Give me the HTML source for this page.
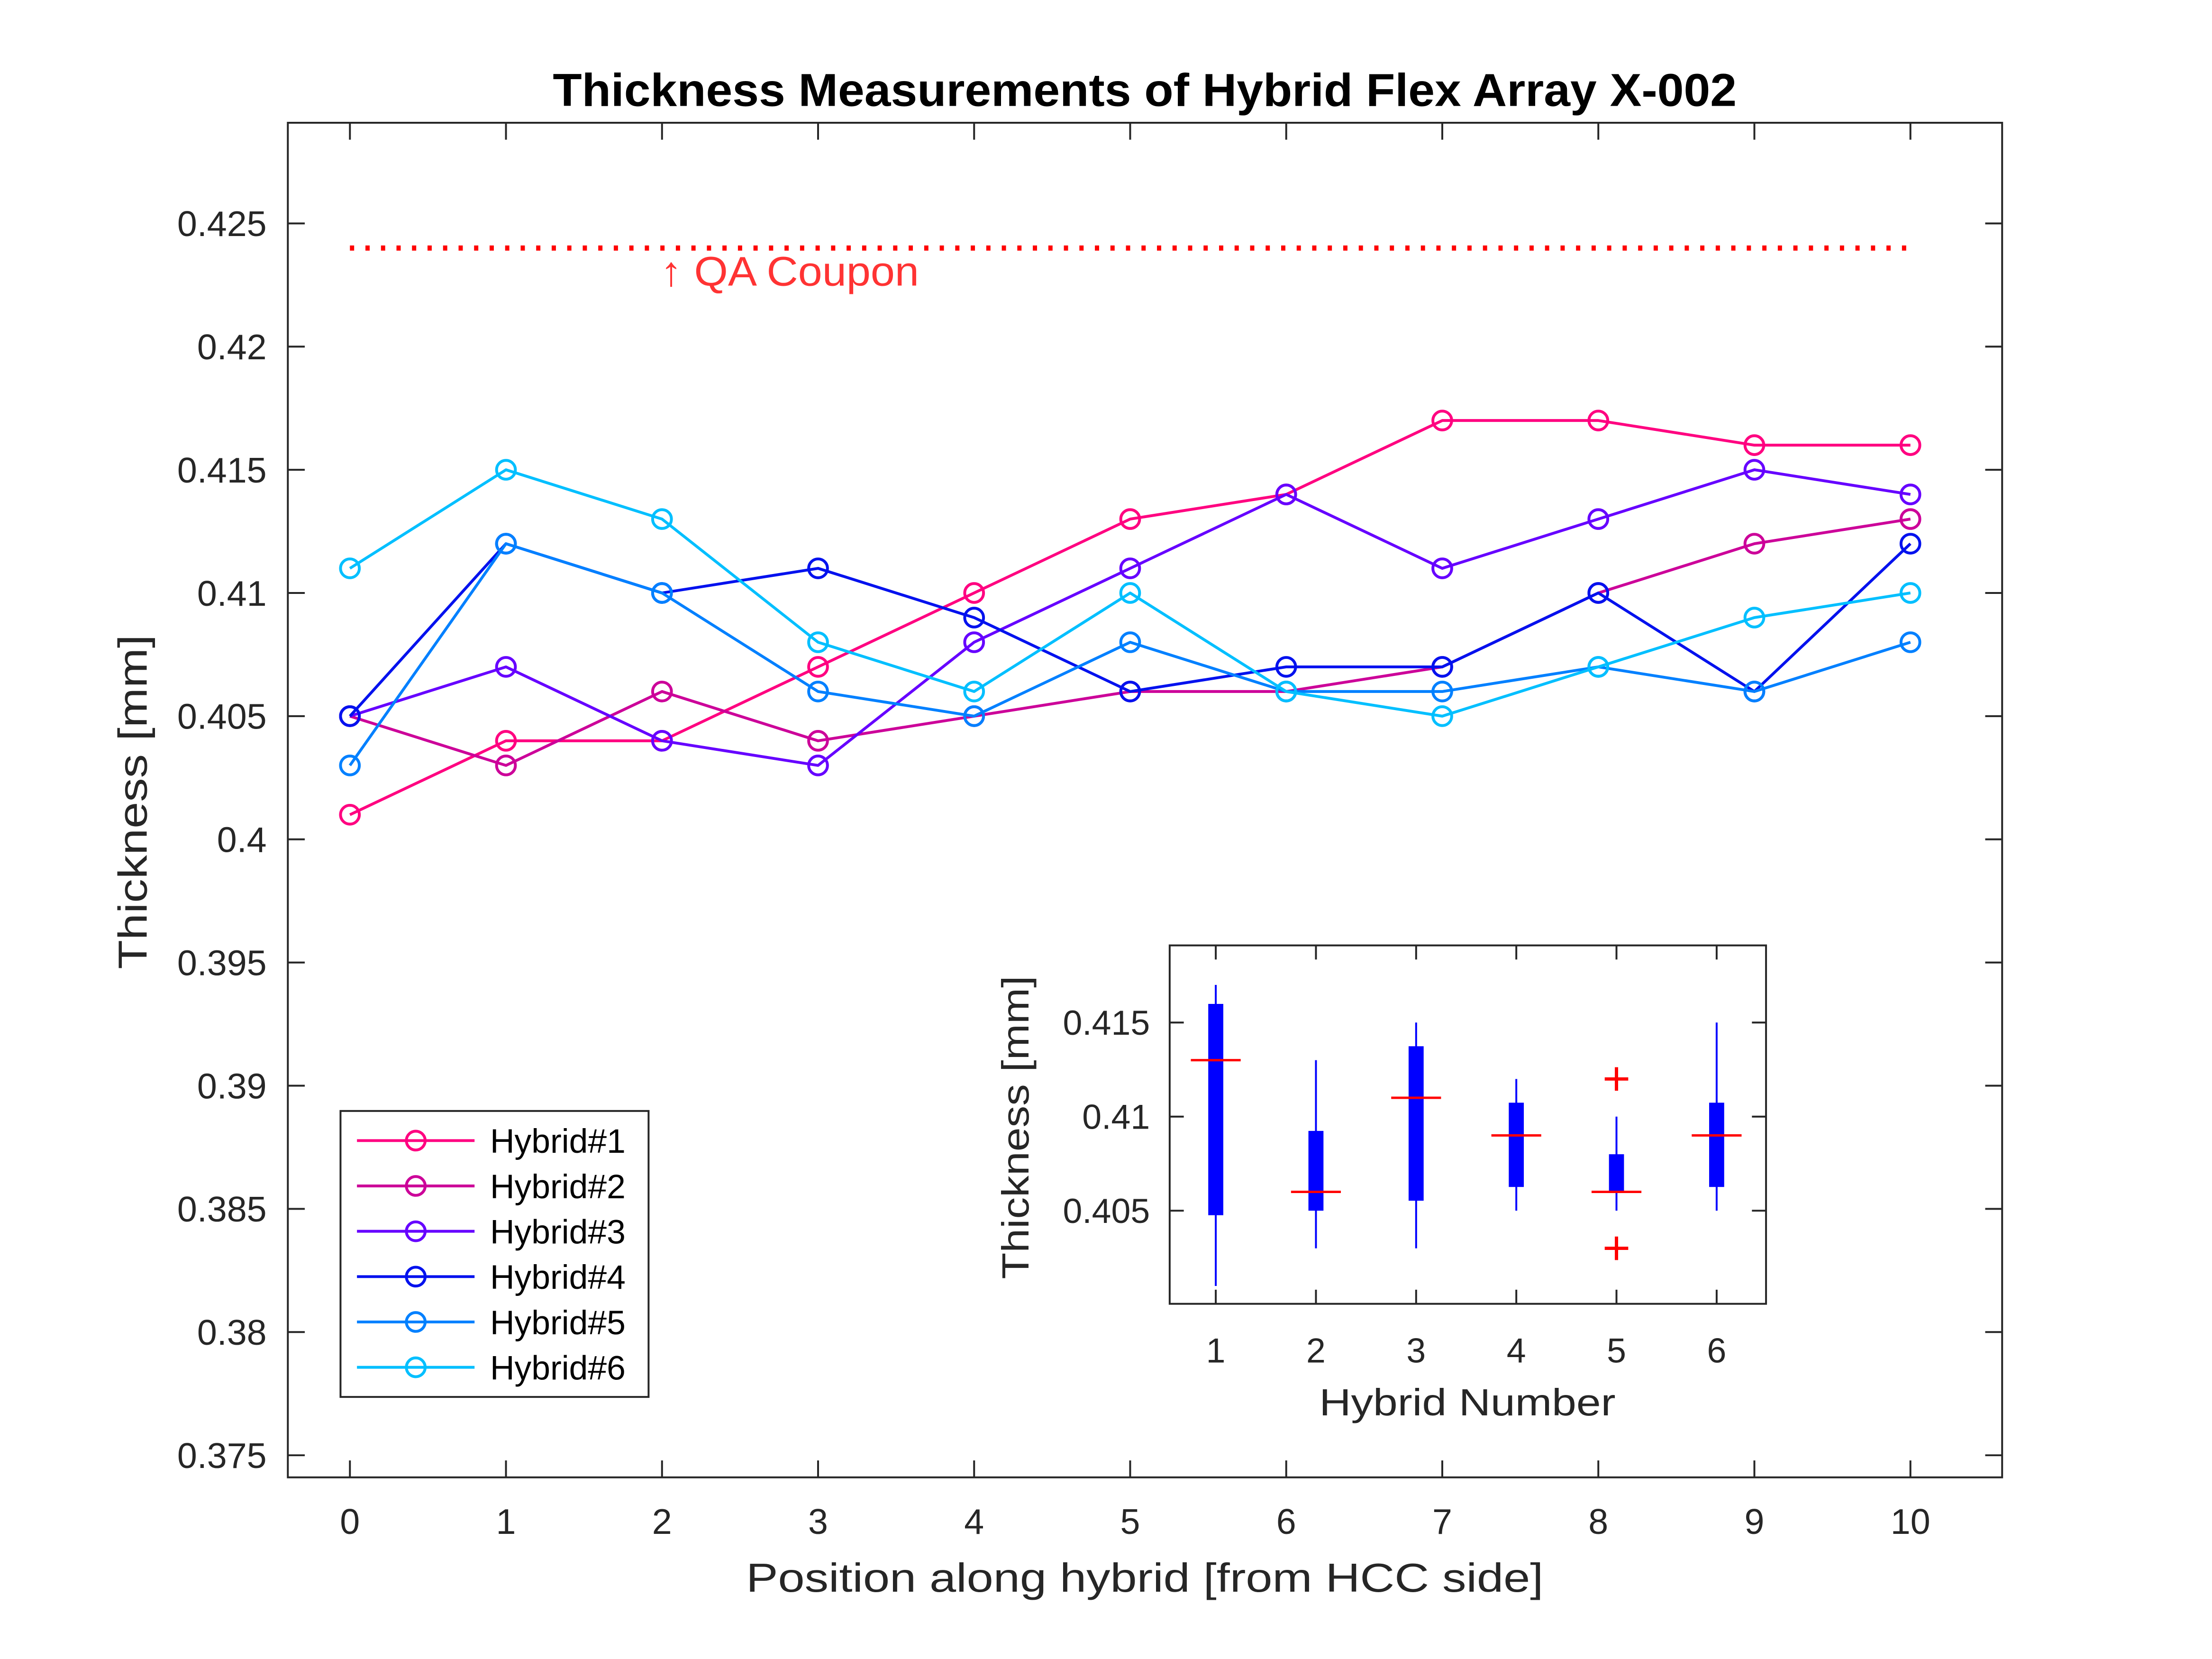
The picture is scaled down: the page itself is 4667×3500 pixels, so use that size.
<!DOCTYPE html>
<html><head><meta charset="utf-8"><style>html,body{margin:0;padding:0;background:#fff}svg{display:block}text{font-family:"Liberation Sans",sans-serif}</style></head>
<body>
<svg id="chart" xmlns="http://www.w3.org/2000/svg" width="4667" height="3500" viewBox="0 0 4667 3500">
<rect width="4667" height="3500" fill="#fff"/>
<g transform="scale(0.9923)">
<text x="2434" y="225" text-anchor="middle" font-size="98" font-weight="bold" textLength="2517" lengthAdjust="spacingAndGlyphs">Thickness Measurements of Hybrid Flex Array X-002</text>
<g id="main"></g>
<g id="inset"></g>
</g>
</svg>
<script>
const positions=[0,1,2,3,4,5,6,7,8,9,10];
const seriesNames=["Hybrid#1","Hybrid#2","Hybrid#3","Hybrid#4","Hybrid#5","Hybrid#6"];
const h1=[0.401,0.404,0.404,0.407,0.410,0.413,0.414,0.417,0.417,0.416,0.416];
const h2=[0.405,0.403,0.406,0.404,0.405,0.406,0.406,0.407,0.410,0.412,0.413];
const h3=[0.405,0.407,0.404,0.403,0.408,0.411,0.414,0.411,0.413,0.415,0.414];
const h4=[0.405,0.412,0.410,0.411,0.409,0.406,0.407,0.407,0.410,0.406,0.412];
const h5=[0.403,0.412,0.410,0.406,0.405,0.408,0.406,0.406,0.407,0.406,0.408];
const h6=[0.411,0.415,0.413,0.408,0.406,0.410,0.406,0.405,0.407,0.409,0.410];
const yTicks=[0.375,0.38,0.385,0.39,0.395,0.4,0.405,0.41,0.415,0.42,0.425];
const yTickLabels=["0.375","0.38","0.385","0.39","0.395","0.4","0.405","0.41","0.415","0.42","0.425"];
const qaValue=0.424;
// inset boxplot data
const boxCats=[1,2,3,4,5,6];
const boxQ1=[0.40476,0.405,0.40553,0.40626,0.406,0.40626];
const boxQ3=[0.41599,0.40924,0.41374,0.41074,0.408,0.41074];
const boxMed=[0.413,0.406,0.411,0.409,0.406,0.409];
const whiskLo=[0.401,0.403,0.403,0.405,0.405,0.405];
const whiskHi=[0.417,0.413,0.415,0.412,0.410,0.415];
const outlierCat=[5,5];
const outlierVal=[0.412,0.403];
const insetYTicks=[0.405,0.41,0.415];
const insetYLabels=["0.405","0.41","0.415"];

const NS="http://www.w3.org/2000/svg";
const colors=["#ff0080","#cc0099","#6600ff","#0011ee","#0080ff","#00bfff"];
function mk(parent,tag,attrs){const e=document.createElementNS(NS,tag);for(const k in attrs)e.setAttribute(k,attrs[k]);parent.appendChild(e);return e;}
const main=document.getElementById('main');
const L=612,R=4257,T=261,B=3141;
const xS=v=>744+v*331.8;
const yS=v=>475+(0.425-v)/0.005*261.9;

const frame=mk(main,'rect',{x:L,y:T,width:R-L,height:B-T,fill:'none',stroke:'#262626','stroke-width':4});


positions.forEach(p=>{
  const x=xS(p);
  mk(main,'line',{x1:x,y1:B,x2:x,y2:B-36,stroke:'#262626','stroke-width':4});
  mk(main,'line',{x1:x,y1:T,x2:x,y2:T+36,stroke:'#262626','stroke-width':4});
  const t=mk(main,'text',{x:x,y:3261,'text-anchor':'middle','font-size':76,fill:'#262626'});
  t.textContent=String(p);
  
  
});
yTicks.forEach((v,i)=>{
  const y=yS(v);
  mk(main,'line',{x1:L,y1:y,x2:L+36,y2:y,stroke:'#262626','stroke-width':4});
  mk(main,'line',{x1:R,y1:y,x2:R-36,y2:y,stroke:'#262626','stroke-width':4});
  const t=mk(main,'text',{x:567,y:y+27,'text-anchor':'end','font-size':76,fill:'#262626'});
  t.textContent=yTickLabels[i];
  
  
});
const xl=mk(main,'text',{x:2434,y:3384,'text-anchor':'middle','font-size':86,fill:'#262626',textLength:1695,lengthAdjust:'spacingAndGlyphs'});
xl.textContent='Position along hybrid [from HCC side]';


const yl=mk(main,'text',{x:0,y:0,'text-anchor':'middle','font-size':86,fill:'#262626',textLength:711,lengthAdjust:'spacingAndGlyphs',transform:'translate(312,1705) rotate(-90)'});
yl.textContent='Thickness [mm]';



const qa=mk(main,'line',{x1:xS(0),y1:yS(qaValue),x2:xS(10),y2:yS(qaValue),stroke:'#f00','stroke-width':11,'stroke-dasharray':'9 24'});


const qt=mk(main,'text',{x:1404,y:607,'font-size':88,fill:'#ff3333',textLength:550,lengthAdjust:'spacingAndGlyphs'});
qt.textContent='↑ QA Coupon';



const allSeries=[h1,h2,h3,h4,h5,h6];
allSeries.forEach((s,si)=>{
  const g=mk(main,'g',{});
  
  
  const pts=s.map((v,i)=>xS(positions[i])+','+yS(v)).join(' ');
  const pl=mk(g,'polyline',{points:pts,fill:'none',stroke:colors[si],'stroke-width':6,'stroke-linejoin':'round'});
  
  
  s.forEach((v,i)=>{
    const c=mk(g,'circle',{cx:xS(positions[i]),cy:yS(v),r:20,fill:'none',stroke:colors[si],'stroke-width':6});
    
    
  });
});

const lg=mk(main,'g',{});


mk(lg,'rect',{x:724,y:2362,width:655,height:608,fill:'#fff',stroke:'#262626','stroke-width':4});
seriesNames.forEach((n,i)=>{
  const y=2425+i*96.4;
  const e=mk(lg,'g',{});
  
  
  mk(e,'line',{x1:759,y1:y,x2:1009,y2:y,stroke:colors[i],'stroke-width':6});
  mk(e,'circle',{cx:884,cy:y,r:20,fill:'none',stroke:colors[i],'stroke-width':6});
  const t=mk(e,'text',{x:1042,y:y+26,'font-size':72,fill:'#000'});
  t.textContent=n;
});

const ins=document.getElementById('inset');
const IL=2487,IR=3755,IT=2010,IB=2772;
const ixS=c=>2585+(c-1)*213;
const iyS=v=>2574-(v-0.405)/0.005*200;
const ibg=mk(ins,'rect',{x:IL,y:IT,width:IR-IL,height:IB-IT,fill:'#fff',stroke:'#262626','stroke-width':4});


boxCats.forEach(c=>{
  const x=ixS(c);
  mk(ins,'line',{x1:x,y1:IB,x2:x,y2:IB-30,stroke:'#262626','stroke-width':4});
  mk(ins,'line',{x1:x,y1:IT,x2:x,y2:IT+30,stroke:'#262626','stroke-width':4});
  const t=mk(ins,'text',{x:x,y:2897,'text-anchor':'middle','font-size':74,fill:'#262626'});
  t.textContent=String(c);
  
  
});
insetYTicks.forEach((v,i)=>{
  const y=iyS(v);
  mk(ins,'line',{x1:IL,y1:y,x2:IL+30,y2:y,stroke:'#262626','stroke-width':4});
  mk(ins,'line',{x1:IR,y1:y,x2:IR-30,y2:y,stroke:'#262626','stroke-width':4});
  const t=mk(ins,'text',{x:2445,y:y+26,'text-anchor':'end','font-size':74,fill:'#262626'});
  t.textContent=insetYLabels[i];
  
  
});
boxCats.forEach((c,i)=>{
  const x=ixS(c);
  const g=mk(ins,'g',{});
  
  
  mk(g,'line',{x1:x,y1:iyS(whiskLo[i]),x2:x,y2:iyS(whiskHi[i]),stroke:'#0000ff','stroke-width':4});
  mk(g,'rect',{x:x-16,y:iyS(boxQ3[i]),width:32,height:iyS(boxQ1[i])-iyS(boxQ3[i]),fill:'#0000ff'});
  mk(g,'line',{x1:x-53,y1:iyS(boxMed[i]),x2:x+53,y2:iyS(boxMed[i]),stroke:'#ff0000','stroke-width':5});
});
outlierCat.forEach((c,i)=>{
  const x=ixS(c),y=iyS(outlierVal[i]);
  const p=mk(ins,'path',{d:`M${x-25},${y}H${x+25}M${x},${y-25}V${y+25}`,stroke:'#ff0000','stroke-width':7});
  
  
});
const ixl=mk(ins,'text',{x:3120,y:3009,'text-anchor':'middle','font-size':80,fill:'#262626',textLength:630,lengthAdjust:'spacingAndGlyphs'});
ixl.textContent='Hybrid Number';


const iyl=mk(ins,'text',{x:0,y:0,'text-anchor':'middle','font-size':80,fill:'#262626',textLength:645,lengthAdjust:'spacingAndGlyphs',transform:'translate(2187,2397) rotate(-90)'});
iyl.textContent='Thickness [mm]';


</script>
</body></html>
